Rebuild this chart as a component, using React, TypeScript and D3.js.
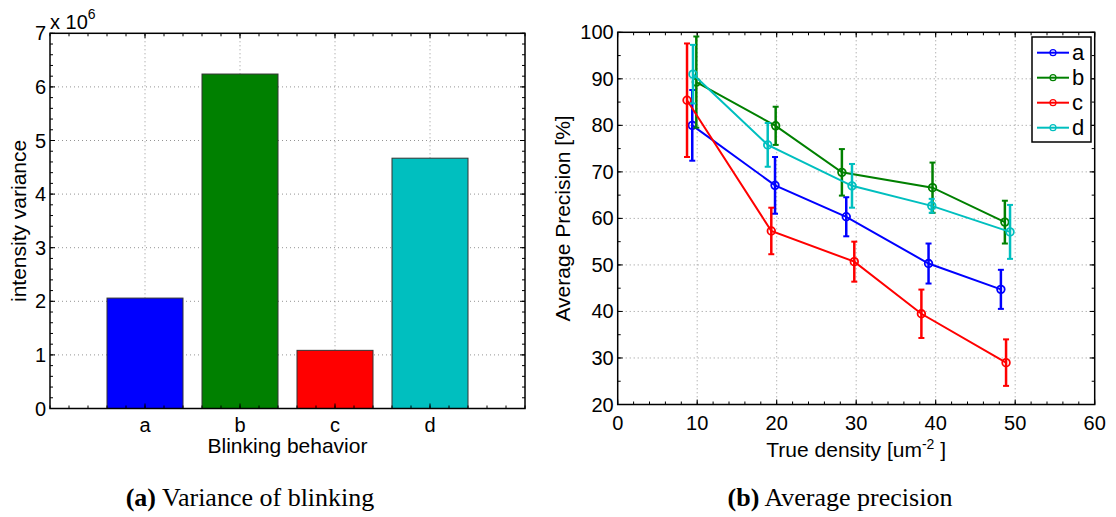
import React from "react";
import * as d3 from "d3";

// left panel: intensity variance per blinking behaviour
const categories = ["a", "b", "c", "d"];
const variance = [2.06e6, 6.24e6, 1.085e6, 4.67e6];
const barColors = ["#0000ff", "#008000", "#ff0000", "#00bfbf"];
const varianceTicks = [0, 1, 2, 3, 4, 5, 6, 7];

// right panel: average precision vs true density
const seriesNames = ["a", "b", "c", "d"];
const densA = [9.38, 19.79, 28.75, 39.1, 48.2];
const precA = [80.0, 67.1, 60.35, 50.3, 44.75];
const errA = [7.6, 6.1, 4.2, 4.3, 4.2];
const densB = [9.89, 19.87, 28.2, 39.6, 48.7];
const precB = [89.3, 79.9, 69.9, 66.6, 59.2];
const errB = [9.8, 4.1, 5.0, 5.4, 4.6];
const densC = [8.72, 19.32, 29.76, 38.2, 48.85];
const precC = [85.4, 57.3, 50.7, 39.5, 29.0];
const errC = [12.2, 5.0, 4.3, 5.2, 5.0];
const densD = [9.47, 18.87, 29.47, 39.5, 49.35];
const precD = [91.0, 75.8, 67.0, 62.7, 57.1];
const errD = [6.3, 4.7, 4.7, 1.5, 5.8];
const densityTicks = [0, 10, 20, 30, 40, 50, 60];
const precisionTicks = [20, 30, 40, 50, 60, 70, 80, 90, 100];

const FONT = "'Liberation Sans', Arial, Helvetica, sans-serif";
const SERIF = "'Liberation Serif', 'Times New Roman', serif";
const TICK_FS = 20;
const LABEL_FS = 21;

const series = [
  { name: seriesNames[0], x: densA, y: precA, e: errA, color: barColors[0] },
  { name: seriesNames[1], x: densB, y: precB, e: errB, color: barColors[1] },
  { name: seriesNames[2], x: densC, y: precC, e: errC, color: barColors[2] },
  { name: seriesNames[3], x: densD, y: precD, e: errD, color: barColors[3] },
];

const Grid = ({ x0, x1, y0, y1, xs, ys }) => (
  <g stroke="#888" strokeWidth={0.9} strokeDasharray="1 3">
    {xs.map((x, i) => (
      <line key={"gx" + i} x1={x} x2={x} y1={y0} y2={y1} />
    ))}
    {ys.map((y, i) => (
      <line key={"gy" + i} x1={x0} x2={x1} y1={y} y2={y} />
    ))}
  </g>
);

const Ticks = ({ x0, x1, y0, y1, majorX, minorX, majorY, minorY }) => {
  const segs = [];
  const add = (xs, len) =>
    xs.forEach((x) => {
      segs.push([x, y1, x, y1 - len]);
      segs.push([x, y0, x, y0 + len]);
    });
  const addY = (ys, len) =>
    ys.forEach((y) => {
      segs.push([x0, y, x0 + len, y]);
      segs.push([x1, y, x1 - len, y]);
    });
  add(majorX, 5);
  add(minorX, 3);
  addY(majorY, 5);
  addY(minorY, 3);
  return (
    <g stroke="#000" strokeWidth={1}>
      {segs.map((s, i) => (
        <line key={i} x1={s[0]} y1={s[1]} x2={s[2]} y2={s[3]} />
      ))}
    </g>
  );
};

const BarPanel = () => {
  const x = d3.scaleLinear().domain([0, 5]).range([50, 525]);
  const y = d3.scaleLinear().domain([0, 7e6]).range([408.5, 33.3]);
  const [x0, x1] = x.range();
  const [y1, y0] = y.range();
  const bw = x(0.8) - x(0);
  return (
    <g fontFamily={FONT}>
      <Grid
        x0={x0}
        x1={x1}
        y0={y0}
        y1={y1}
        xs={[1, 2, 3, 4].map(x)}
        ys={varianceTicks.slice(1, -1).map((t) => y(t * 1e6))}
      />
      {categories.map((c, i) => (
        <rect
          key={c}
          x={x(i + 1) - bw / 2}
          y={y(variance[i])}
          width={bw}
          height={y(0) - y(variance[i])}
          fill={barColors[i]}
          stroke="#333"
          strokeWidth={1}
        />
      ))}
      <Ticks
        x0={x0}
        x1={x1}
        y0={y0}
        y1={y1}
        majorX={[1, 2, 3, 4].map(x)}
        minorX={d3.range(0, 5.001, 0.2).map(x)}
        majorY={varianceTicks.map((t) => y(t * 1e6))}
        minorY={d3.range(0, 7.001, 0.2).map((t) => y(t * 1e6))}
      />
      <rect x={x0} y={y0} width={x1 - x0} height={y1 - y0} fill="none" stroke="#000" strokeWidth={1.5} />
      {varianceTicks.map((t) => (
        <text key={t} x={x0 - 4} y={y(t * 1e6)} dy="0.35em" textAnchor="end" fontSize={TICK_FS}>
          {t}
        </text>
      ))}
      {categories.map((c, i) => (
        <text key={c} x={x(i + 1)} y={432} textAnchor="middle" fontSize={TICK_FS}>
          {c}
        </text>
      ))}
      <text x={50} y={29} fontSize={TICK_FS}>
        x 10
        <tspan fontSize={14} dy={-10}>6</tspan>
      </text>
      <text x={(x0 + x1) / 2} y={453} textAnchor="middle" fontSize={LABEL_FS}>
        Blinking behavior
      </text>
      <text transform={`translate(26,${(y0 + y1) / 2}) rotate(-90)`} textAnchor="middle" fontSize={LABEL_FS}>
        intensity variance
      </text>
    </g>
  );
};

const LinePanel = () => {
  const x = d3.scaleLinear().domain([0, 60]).range([617.7, 1094.7]);
  const y = d3.scaleLinear().domain([20, 100]).range([404.5, 32.3]);
  const [x0, x1] = x.range();
  const [y1, y0] = y.range();
  const line = d3
    .line<number>()
    .x((d) => d[0])
    .y((d) => d[1]);
  const cap = 3;
  const lg = { x: 1032, y: 37, w: 59, h: 105, row: 25 };
  return (
    <g fontFamily={FONT}>
      <Grid
        x0={x0}
        x1={x1}
        y0={y0}
        y1={y1}
        xs={densityTicks.slice(1, -1).map(x)}
        ys={precisionTicks.slice(1, -1).map(y)}
      />
      <Ticks
        x0={x0}
        x1={x1}
        y0={y0}
        y1={y1}
        majorX={densityTicks.map(x)}
        minorX={d3.range(0, 60.001, 2).map(x)}
        majorY={precisionTicks.map(y)}
        minorY={d3.range(20, 100.001, 5).map(y)}
      />
      {series.map((s) => (
        <g key={s.name} stroke={s.color} fill="none">
          <path d={line(s.x.map((d, i) => [x(d), y(s.y[i])]))} strokeWidth={2} />
          {s.x.map((d, i) => {
            const cx = x(d);
            const top = y(s.y[i] + s.e[i]);
            const bot = y(s.y[i] - s.e[i]);
            return (
              <g key={i} strokeWidth={2.5}>
                <line x1={cx} x2={cx} y1={top} y2={bot} />
                <line x1={cx - cap} x2={cx + cap} y1={top} y2={top} strokeWidth={2} />
                <line x1={cx - cap} x2={cx + cap} y1={bot} y2={bot} strokeWidth={2} />
              </g>
            );
          })}
          {s.x.map((d, i) => (
            <circle key={"m" + i} cx={x(d)} cy={y(s.y[i])} r={3.8} strokeWidth={1.8} />
          ))}
        </g>
      ))}
      <rect x={x0} y={y0} width={x1 - x0} height={y1 - y0} fill="none" stroke="#000" strokeWidth={1.5} />
      {precisionTicks.map((t) => (
        <text key={t} x={x0 - 4} y={y(t)} dy="0.35em" textAnchor="end" fontSize={TICK_FS}>
          {t}
        </text>
      ))}
      {densityTicks.map((t) => (
        <text key={t} x={x(t)} y={430} textAnchor="middle" fontSize={TICK_FS}>
          {t}
        </text>
      ))}
      <text x={(x0 + x1) / 2} y={457} textAnchor="middle" fontSize={LABEL_FS}>
        True density [um
        <tspan fontSize={14} dy={-8}>-2</tspan>
        <tspan dy={8}> ]</tspan>
      </text>
      <text transform={`translate(570,${(y0 + y1) / 2}) rotate(-90)`} textAnchor="middle" fontSize={LABEL_FS}>
        Average Precision [%]
      </text>
      <rect x={lg.x} y={lg.y} width={lg.w} height={lg.h} fill="#fff" stroke="#000" strokeWidth={1.5} />
      {series.map((s, i) => {
        const ry = lg.y + 15.7 + i * lg.row;
        return (
          <g key={"lg" + s.name}>
            <line x1={lg.x + 5} x2={lg.x + 37} y1={ry} y2={ry} stroke={s.color} strokeWidth={2} />
            <circle cx={lg.x + 21} cy={ry} r={3} fill="none" stroke={s.color} strokeWidth={1.2} />
            <text x={lg.x + 40} y={ry} dy="0.35em" fontSize={22}>
              {s.name}
            </text>
          </g>
        );
      })}
    </g>
  );
};

export default function App() {
  return (
    <svg
      width={1116}
      height={517}
      style={{ position: "absolute", left: 0, top: 0, background: "#fff" }}
    >
      <rect width={1116} height={517} fill="#fff" />
      <BarPanel />
      <LinePanel />
      <text x={250} y={506} textAnchor="middle" fontFamily={SERIF} fontSize={26}>
        <tspan fontWeight="bold">(a)</tspan> Variance of blinking
      </text>
      <text x={840} y={506} textAnchor="middle" fontFamily={SERIF} fontSize={26}>
        <tspan fontWeight="bold">(b)</tspan> Average precision
      </text>
    </svg>
  );
}
